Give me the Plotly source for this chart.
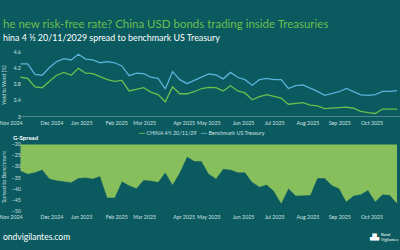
import plotly.graph_objects as go

# ---------------- data ----------------
month_labels = ["Nov 2024", "Dec 2024", "Jan 2025", "Feb 2025", "Mar 2025", "Apr 2025",
                "May 2025", "Jun 2025", "Jul 2025", "Aug 2025", "Sep 2025", "Oct 2025"]

china_yield = [3.98, 3.95, 3.74, 3.72, 3.88, 4.03, 4.10, 4.03, 4.20, 4.08,
               4.07, 4.00, 3.92, 3.88, 3.90, 3.64, 3.68, 3.72, 3.61, 3.55,
               3.37, 3.74, 3.57, 3.57, 3.62, 3.70, 3.73, 3.72, 3.64, 3.77,
               3.64, 3.59, 3.42, 3.50, 3.55, 3.51, 3.46, 3.31, 3.33, 3.35,
               3.29, 3.27, 3.20, 3.21, 3.22, 3.24, 3.21, 3.13, 3.10, 3.08,
               3.19, 3.19, 3.19]

ust_yield = [4.31, 4.31, 4.05, 4.03, 4.22, 4.37, 4.44, 4.41, 4.55, 4.43,
             4.41, 4.34, 4.37, 4.34, 4.26, 4.02, 4.08, 4.07, 3.98, 3.95,
             3.69, 4.12, 3.92, 3.82, 3.90, 3.98, 4.06, 4.04, 3.94, 4.10,
             3.98, 3.92, 3.78, 3.92, 3.95, 3.92, 3.92, 3.70, 3.77, 3.79,
             3.72, 3.63, 3.53, 3.58, 3.62, 3.70, 3.62, 3.54, 3.53, 3.55,
             3.63, 3.63, 3.65]

g_spread = [-31.8, -33.2, -32.5, -31.3, -35.4, -36.2, -36.6, -37.1, -35.1, -34.9,
            -35.4, -34.2, -43.9, -43.9, -36.6, -38.4, -39.8, -36.0, -36.3, -36.9,
            -32.5, -38.1, -32.5, -25.4, -27.4, -27.5, -33.2, -35.4, -31.0, -31.3,
            -32.5, -32.5, -36.9, -39.1, -38.1, -41.0, -46.5, -39.8, -43.1, -43.1,
            -42.8, -35.1, -35.1, -38.4, -39.8, -45.7, -43.1, -42.5, -40.6, -45.7,
            -42.5, -42.8, -46.5]

yield_ticks = [3, 3.4, 3.8, 4.2, 4.6]
spread_ticks = [-20, -25, -30, -35, -40, -45, -50]

# ---------------- styling ----------------
BG = "#0a5a5f"
GREEN = "#6cbf4e"
BLUE = "#5ab2da"
FILL = "#87bf5c"
TICK_COL = "#cfe0e0"
FONT = "Lato"

x = list(range(len(china_yield)))
x_range = [-2.69, 52.41]
tick_pos = [-1.3, 4.34, 8.47, 13.29, 17.15, 22.6, 26.0, 30.8, 35.1, 39.7, 44.1, 48.55]

fig = go.Figure()
fig.add_trace(go.Scatter(x=x, y=china_yield, mode="lines", name="CHINA 4½ 20/11/29",
                         line=dict(color=GREEN, width=1.3), xaxis="x", yaxis="y",
                         showlegend=False))
fig.add_trace(go.Scatter(x=x, y=ust_yield, mode="lines", name="Benchmark US Treasury",
                         line=dict(color=BLUE, width=1.3), xaxis="x", yaxis="y",
                         showlegend=False))
fig.add_trace(go.Scatter(x=x, y=g_spread, mode="lines", name="G-Spread",
                         fill="tozeroy", fillcolor=FILL,
                         line=dict(color=FILL, width=0.5), xaxis="x2", yaxis="y2",
                         showlegend=False))

tickfont = dict(family=FONT, size=5.3, color=TICK_COL)
axis_common = dict(showgrid=False, zeroline=False, showline=False, ticks="",
                   tickfont=tickfont, range=x_range, tickmode="array", tickangle=0,
                   ticklabeloverflow="allow", ticklabelstandoff=2,
                   tickvals=tick_pos, ticktext=month_labels, domain=[0, 1])

fig.update_layout(
    width=400, height=250,
    margin=dict(l=0, r=0, t=0, b=0),
    paper_bgcolor=BG, plot_bgcolor=BG,
    font=dict(family=FONT, color="white"),
    xaxis=dict(anchor="y", **axis_common),
    xaxis2=dict(anchor="y2", **axis_common),
    yaxis=dict(domain=[0.534, 0.798], range=[3, 4.6], anchor="free", position=0.05,
               showgrid=False, zeroline=False, showline=False, ticks="",
               tickmode="array", tickvals=yield_ticks,
               ticktext=[str(v) for v in yield_ticks], tickfont=tickfont),
    yaxis2=dict(domain=[0.148, 0.42], range=[-50, -20], anchor="free", position=0.05,
                showgrid=False, zeroline=False, showline=False, ticks="",
                tickmode="array", tickvals=spread_ticks, tickfont=tickfont),
)

# baseline of top chart
fig.add_shape(type="line", xref="x", yref="y", x0=x[0], x1=x_range[1], y0=3, y1=3,
              line=dict(color="#7fa9ac", width=1))

ann = []
ann.append(dict(text="he new risk-free rate? China USD bonds trading inside Treasuries",
                x=0, y=1 - 21 / 250, xref="paper", yref="paper", xanchor="left",
                yanchor="middle", showarrow=False,
                font=dict(family=FONT, size=11.5, color=GREEN)))
ann.append(dict(text="hina 4 ½ 20/11/2029 spread to benchmark US Treasury",
                x=0, y=1 - 35 / 250, xref="paper", yref="paper", xanchor="left",
                yanchor="middle", showarrow=False,
                font=dict(family=FONT, size=8.9, color="white")))
ann.append(dict(text="Yield to Worst (%)", textangle=-90,
                x=3 / 400, y=1 - 84 / 250, xref="paper", yref="paper",
                xanchor="center", yanchor="middle", showarrow=False,
                font=dict(family=FONT, size=5, color=TICK_COL)))
ann.append(dict(text="Spread to Benchmark", textangle=-90,
                x=3 / 400, y=1 - 178 / 250, xref="paper", yref="paper",
                xanchor="center", yanchor="middle", showarrow=False,
                font=dict(family=FONT, size=5.5, color=TICK_COL)))
ann.append(dict(text="<b>G-Spread</b>", x=10 / 400, y=1 - 138 / 250,
                xref="paper", yref="paper", xanchor="left", yanchor="middle",
                showarrow=False, font=dict(family=FONT, size=6, color="white")))
ann.append(dict(text=f"<span style='color:{GREEN}'>━━</span> CHINA 4½ 20/11/29",
                x=135 / 400, y=1 - 133 / 250, xref="paper", yref="paper",
                xanchor="left", yanchor="middle", showarrow=False,
                font=dict(family=FONT, size=5.4, color=TICK_COL)))
ann.append(dict(text=f"<span style='color:{BLUE}'>━━</span> Benchmark US Treasury",
                x=197 / 400, y=1 - 133 / 250, xref="paper", yref="paper",
                xanchor="left", yanchor="middle", showarrow=False,
                font=dict(family=FONT, size=5.4, color=TICK_COL)))
ann.append(dict(text="ondvigilantes.com", x=0, y=1 - 240 / 250, xref="paper",
                yref="paper", xanchor="left", yanchor="middle", showarrow=False,
                font=dict(family=FONT, size=8.5, color="white")))
ann.append(dict(text="Bond<br>Vigilantes", x=1, y=1 - 240 / 250,
                xref="paper", yref="paper", xanchor="right", yanchor="middle",
                align="left", showarrow=False,
                font=dict(family=FONT, size=4, color="white")))
ann.append(dict(text="▟▙", x=382 / 400, y=1 - 240 / 250,
                xref="paper", yref="paper", xanchor="right", yanchor="middle",
                showarrow=False, font=dict(family="DejaVu Sans", size=6, color="white")))
fig.update_layout(annotations=ann)

fig.write_html("out.html")
